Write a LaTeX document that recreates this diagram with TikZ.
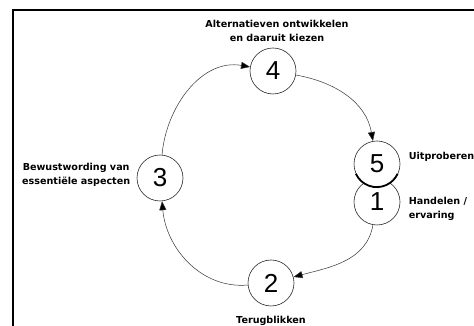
\documentclass[tikz,border=0pt]{standalone}
\usepackage{fontspec}
\setmainfont{DejaVu Sans}
\newfontfamily\digitfont{Liberation Sans}
\usetikzlibrary{positioning, arrows.meta}

\begin{document}
\begin{tikzpicture}[->, >={Triangle[length=9pt,width=7pt]}, x=1pt, y=1pt,
        stage/.style={circle, draw=black!85, fill=white, line width=0.6pt, minimum size=46pt, inner sep=0pt, font=\digitfont\fontsize{26}{26}\selectfont},
        lbl/.style={align=center, font=\bfseries\fontsize{9.6}{14}\selectfont}]
        \useasboundingbox (0,0) rectangle (474,326);
        \draw[-, line width=1.6pt] (13,-5) |- (480,316);

        \node (s1) [stage] at (377,124) {1};
        \node (s5) [stage] at (377,162) {5};
        \node (s4) [stage] at (273,255) {4};
        \node (s3) [stage] at (160,148) {3};
        \node (s2) [stage] at (271,43) {2};
        \draw[-, line width=1.8pt] (s5.205) arc[start angle=205, end angle=335, radius=23pt];

        \node (alt) [lbl, above=3pt of s4, xshift=4pt] {Alternatieven ontwikkelen\\en daaruit kiezen};
        \node (bew) [lbl, left=3pt of s3, yshift=3pt] {Bewustwording van\\essentiële aspecten};
        \node (uit) [lbl, right=5pt of s5, yshift=7pt] {Uitproberen};
        \node (han) [lbl, align=left, right=5pt of s1, yshift=-7pt] {Handelen /\\ervaring};
        \node (ter) [lbl, below=6pt of s2] {Terugblikken};

        \path[draw=black!80, line width=0.5pt]
            (s3) edge[out=85, in=170] (s4)
            (s4) edge[out=-10, in=100] (s5)
            (s1) edge[out=-100, in=15] (s2)
            (s2) edge[out=185, in=-85] (s3);
\end{tikzpicture}
\end{document}
